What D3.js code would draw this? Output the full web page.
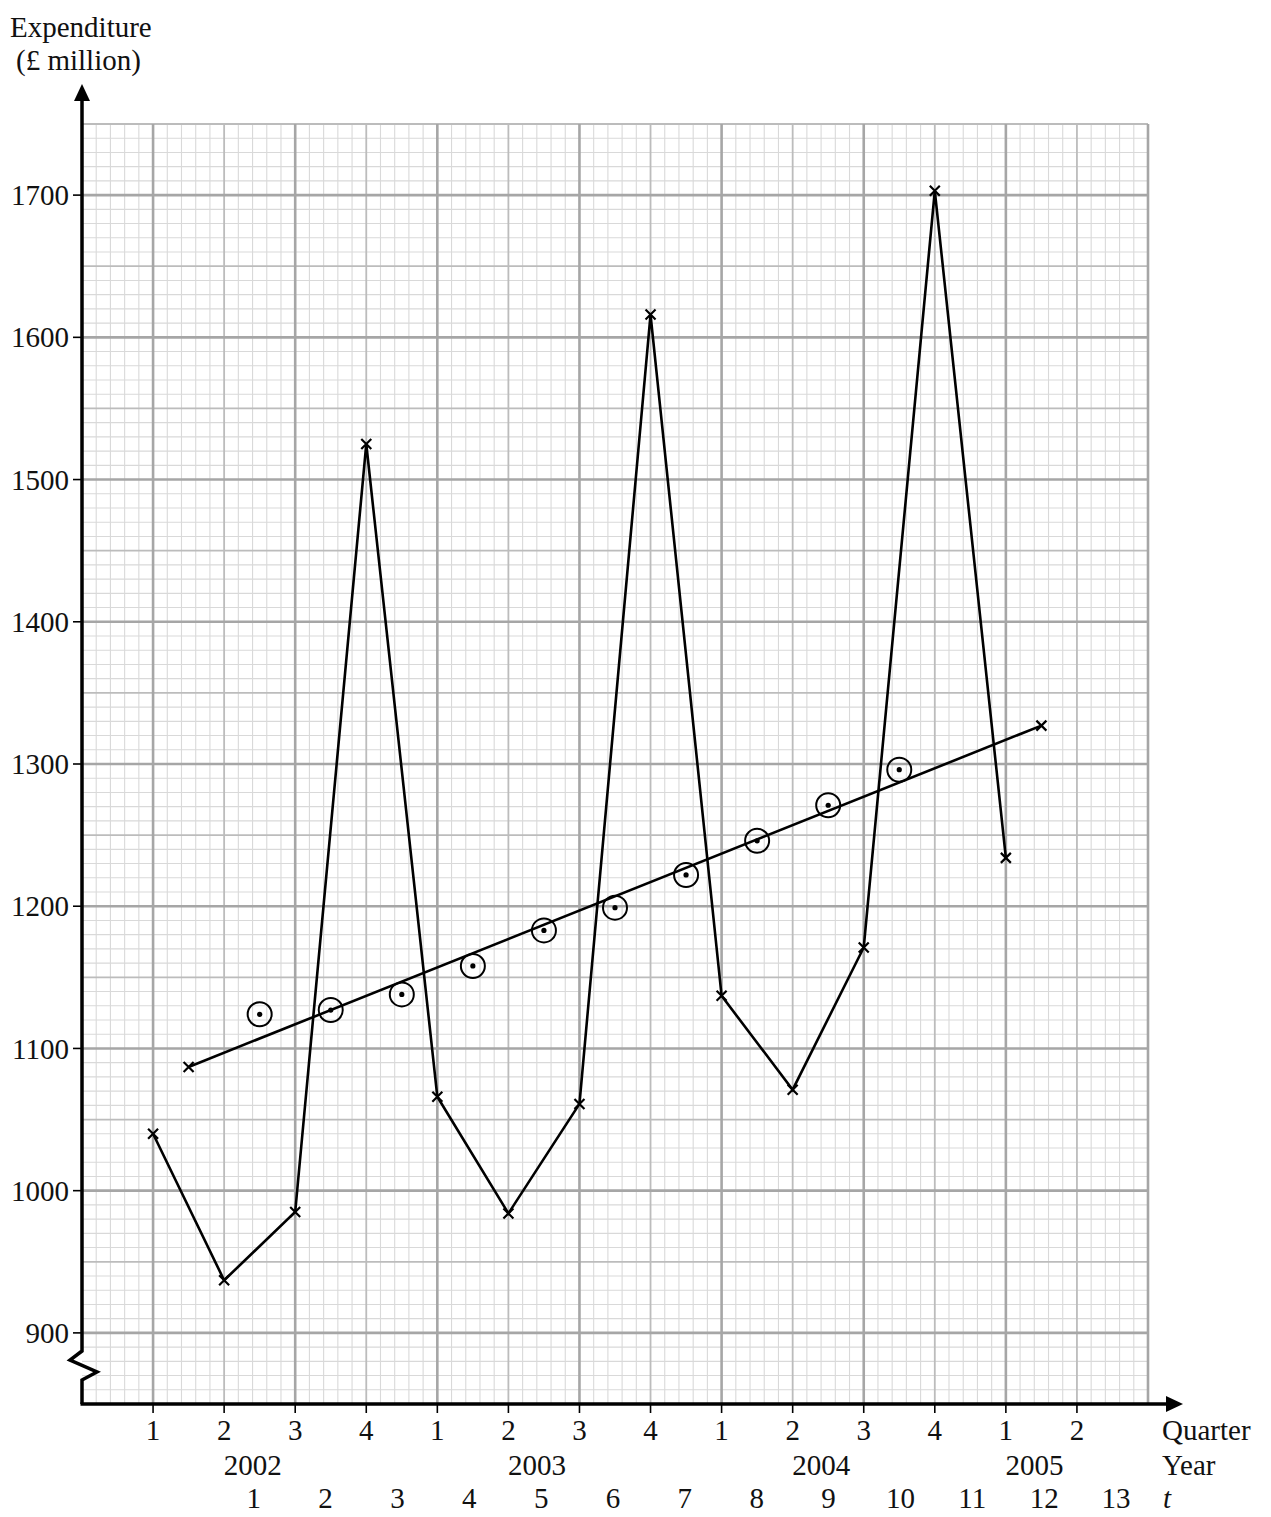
<!DOCTYPE html>
<html>
<head>
<meta charset="utf-8">
<script src="https://cdn.jsdelivr.net/npm/d3@7"></script>
<style>
  html, body { margin: 0; padding: 0; background: #fff; }
  svg text { font-family: "Liberation Serif", "Times New Roman", serif; fill: #111; }
</style>
</head>
<body>
<svg id="chart" width="1271" height="1517"></svg>
<script>
// ---- data ----
const quarterLabels = ["1","2","3","4","1","2","3","4","1","2","3","4","1","2"];
const quarterYears  = [2002,2002,2002,2002,2003,2003,2003,2003,2004,2004,2004,2004,2005,2005];
const yearLabels = ["2002","2003","2004","2005"];
const tLabels = [1,2,3,4,5,6,7,8,9,10,11,12,13];
const expenditure = [1040, 937, 985, 1525, 1066, 984, 1061, 1616, 1137, 1071, 1171, 1703, 1234];
const movingAverageT = [1,2,3,4,5,6,7,8,9,10];
const movingAverage = [1124, 1127, 1138, 1158, 1183, 1199, 1222, 1246, 1271, 1296];
const trendT = [0, 12];
const trendValues = [1087, 1327];
const yTicks = [900,1000,1100,1200,1300,1400,1500,1600,1700];

// ---- scales ----
const svg = d3.select("#chart");
const x = d3.scaleLinear().domain([0, 15]).range([82, 1148]);   // quarter index (1 = 2002 Q1)
const y = d3.scaleLinear().domain([850, 1750]).range([1404, 124]);
const tx = t => x(t + 1.5);                                        // t=1 at mid of Q2/Q3 2002
const FS = 29;

// ---- grid ----
const grid = svg.append("g");
const xMinor = d3.range(0, 15.001, 0.2);
const yMinor = d3.range(850, 1750.1, 10);
function vClass(v){ const r = Math.round(v*5)/5; if (Math.abs(r - Math.round(r))>1e-6) return 0; return (Math.round(r)%2===1)?2:1; }
function hClass(v){ const r = Math.round(v); if (r%50!==0) return 0; return (r%100===0)?2:1; }
const styles = [
  {stroke:"#d9d9d9", w:1.1},
  {stroke:"#bcbcbc", w:1.8},
  {stroke:"#a6a6a6", w:2.6}
];
[0,1,2].forEach(level => {
  grid.selectAll(null).data(xMinor.filter(v => vClass(v)===level && v>0.01)).enter()
    .append("line").attr("x1", d=>x(d)).attr("x2", d=>x(d)).attr("y1", y(850)).attr("y2", y(1750))
    .attr("stroke", styles[level].stroke).attr("stroke-width", styles[level].w);
  grid.selectAll(null).data(yMinor.filter(v => hClass(v)===level && v>851)).enter()
    .append("line").attr("y1", d=>y(d)).attr("y2", d=>y(d)).attr("x1", x(0)).attr("x2", x(15))
    .attr("stroke", styles[level].stroke).attr("stroke-width", styles[level].w);
});

// ---- axes ----
const axisG = svg.append("g").attr("stroke", "#000").attr("fill", "none").attr("stroke-width", 3.5);
// left axis with break
axisG.append("path").attr("d", d3.line()([
  [x(0), y(850)], [x(0), y(850) - 24], [x(0)+15, y(850) - 32], [x(0)-12, y(850) - 44], [x(0), y(850) - 53], [x(0), 98]
])).attr("stroke-linejoin", "miter");
svg.append("path").attr("d", `M${x(0)-8},${101} L${x(0)},${84} L${x(0)+8},${101} Z`).attr("fill", "#000");
// bottom axis
axisG.append("line").attr("x1", x(0)-1.5).attr("x2", 1168).attr("y1", y(850)).attr("y2", y(850));
svg.append("path").attr("d", `M${1166},${y(850)-8} L${1183},${y(850)} L${1166},${y(850)+8} Z`).attr("fill", "#000");

// y ticks + labels
const yAxis = svg.append("g");
yAxis.selectAll("line").data(yTicks).enter().append("line")
  .attr("x1", x(0)-9).attr("x2", x(0)).attr("y1", d=>y(d)).attr("y2", d=>y(d))
  .attr("stroke", "#000").attr("stroke-width", 1.6);
yAxis.selectAll("text").data(yTicks).enter().append("text")
  .attr("x", x(0)-13).attr("y", d=>y(d)).attr("dy", "0.35em").attr("text-anchor", "end")
  .attr("font-size", FS).text(d=>d);

// x ticks + labels
const xAxis = svg.append("g");
xAxis.selectAll("line").data(quarterLabels).enter().append("line")
  .attr("x1", (d,i)=>x(i+1)).attr("x2", (d,i)=>x(i+1)).attr("y1", y(850)).attr("y2", y(850)+9)
  .attr("stroke", "#000").attr("stroke-width", 1.6);
xAxis.selectAll("text.q").data(quarterLabels).enter().append("text").attr("class","q")
  .attr("x", (d,i)=>x(i+1)).attr("y", 1440).attr("text-anchor", "middle").attr("font-size", FS).text(d=>d);
xAxis.selectAll("text.yr").data(yearLabels).enter().append("text").attr("class","yr")
  .attr("x", d => x(d3.mean(quarterYears.map((v,i)=>v===+d ? i+1 : null).filter(v=>v!==null))) - 7)
  .attr("y", 1475).attr("text-anchor", "middle").attr("font-size", FS).text(d=>d);
xAxis.selectAll("text.t").data(tLabels).enter().append("text").attr("class","t")
  .attr("x", d=>tx(d) - 6 + (d-1)*0.8).attr("y", 1508).attr("text-anchor", "middle").attr("font-size", FS).text(d=>d);
svg.append("text").attr("x", 1162).attr("y", 1440).attr("font-size", FS).text("Quarter");
svg.append("text").attr("x", 1162).attr("y", 1475).attr("font-size", FS).text("Year");
svg.append("text").attr("x", 1163).attr("y", 1508).attr("font-size", FS).attr("font-style", "italic").text("t");

// axis title
svg.append("text").attr("x", 10).attr("y", 37).attr("font-size", FS).text("Expenditure");
svg.append("text").attr("x", 16).attr("y", 70).attr("font-size", FS).text("(£ million)");

// ---- series ----
const line = d3.line().x(d=>d[0]).y(d=>d[1]);
const expPts = expenditure.map((v,i)=>[x(i+1), y(v)]);
svg.append("path").attr("d", line(expPts)).attr("fill","none").attr("stroke","#000").attr("stroke-width", 2.6).attr("stroke-linejoin","miter");

const trendPts = trendT.map((t,i)=>[tx(t), y(trendValues[i])]);
svg.append("path").attr("d", line(trendPts)).attr("fill","none").attr("stroke","#000").attr("stroke-width", 2.6);

function crosses(pts){
  const g = svg.append("g").attr("stroke","#000").attr("stroke-width",2.2);
  g.selectAll("path").data(pts).enter().append("path")
    .attr("d", d=>`M${d[0]-5},${d[1]-5}L${d[0]+5},${d[1]+5}M${d[0]-5},${d[1]+5}L${d[0]+5},${d[1]-5}`);
}
crosses(expPts);
crosses(trendPts);

const maG = svg.append("g");
const maPts = movingAverageT.map((t,i)=>[tx(t), y(movingAverage[i])]);
maG.selectAll("circle.o").data(maPts).enter().append("circle").attr("class","o")
  .attr("cx", d=>d[0]).attr("cy", d=>d[1]).attr("r", 12).attr("fill","none").attr("stroke","#000").attr("stroke-width",2);
maG.selectAll("circle.d").data(maPts).enter().append("circle").attr("class","d")
  .attr("cx", d=>d[0]).attr("cy", d=>d[1]).attr("r", 2.6).attr("fill","#000");
</script>
</body>
</html>
